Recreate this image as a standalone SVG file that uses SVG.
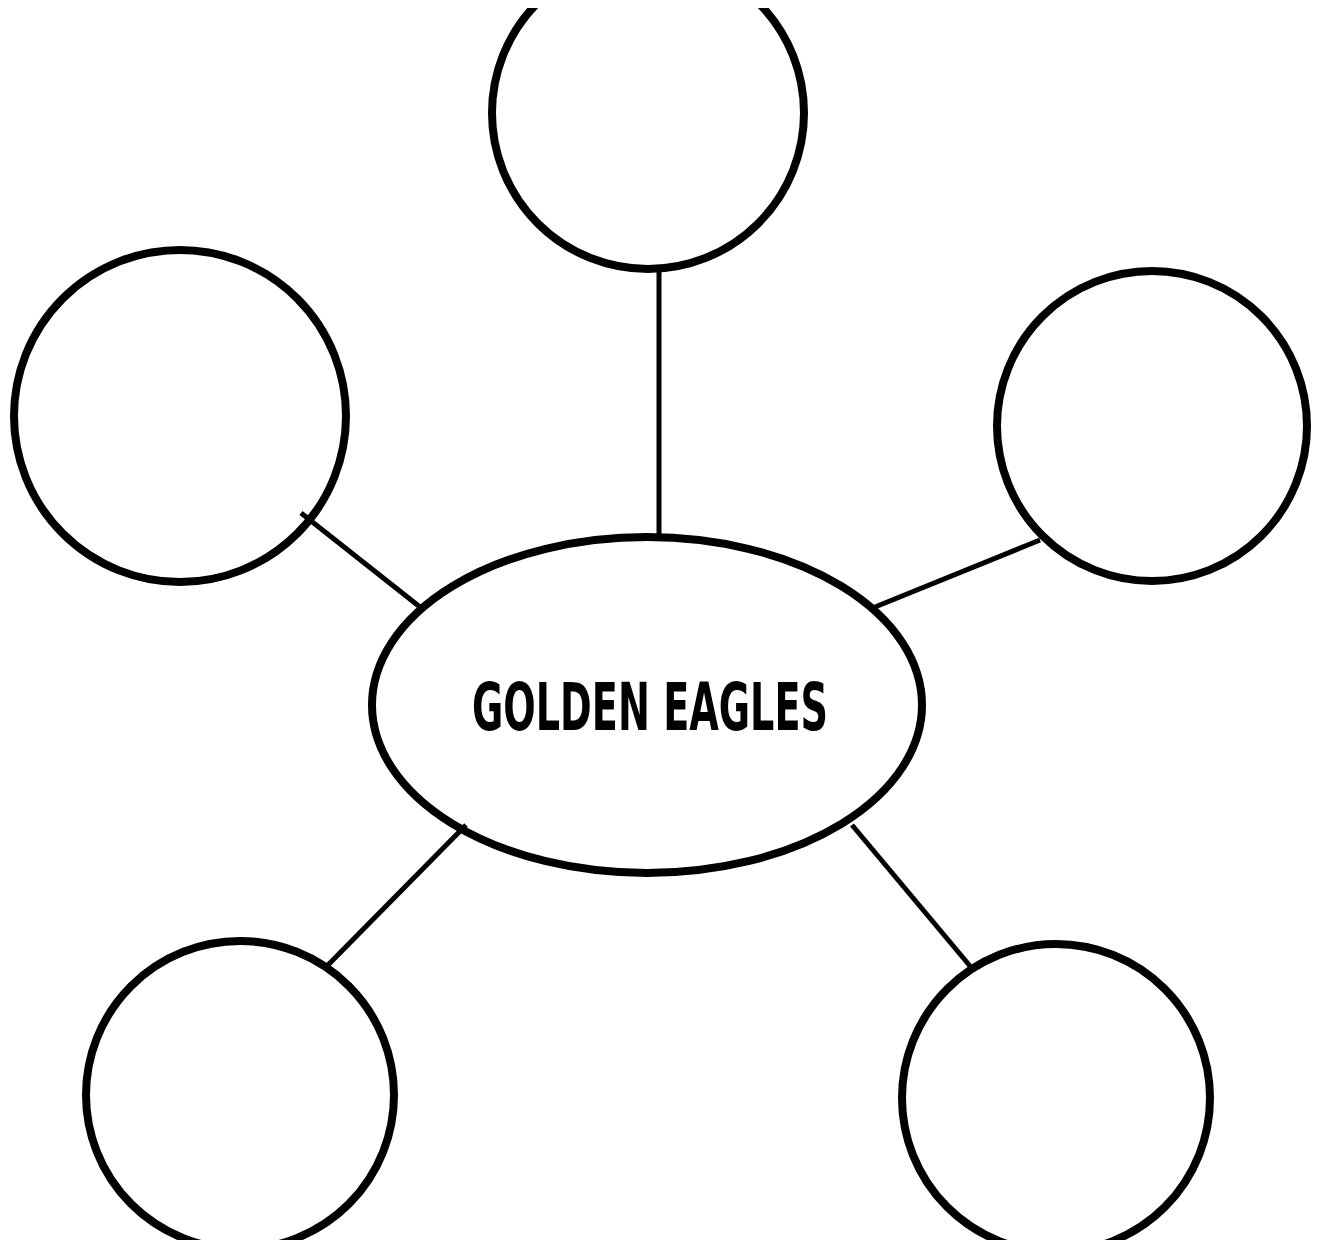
<svg xmlns="http://www.w3.org/2000/svg" width="1320" height="1245" viewBox="0 0 1320 1245">
  <defs>
    <clipPath id="page">
      <rect x="0" y="8" width="1320" height="1232"/>
    </clipPath>
  </defs>
  <style>
    .bubble { fill: none; stroke: #000; stroke-width: 8; }
    .link { stroke: #000; stroke-width: 5; fill: none; }
    .title { font-family: "DejaVu Sans Condensed", "DejaVu Sans", sans-serif; font-weight: bold; font-size: 66px; fill: #000; }
  </style>
  <rect width="1320" height="1245" fill="#fff"/>
  <g clip-path="url(#page)">
    <g id="connectors">
      <line class="link" x1="659" y1="271" x2="659" y2="537"/>
      <line class="link" x1="301" y1="513" x2="420" y2="607"/>
      <line class="link" x1="875" y1="607" x2="1040" y2="540"/>
      <line class="link" x1="466" y1="825" x2="328" y2="965"/>
      <line class="link" x1="852" y1="825" x2="970" y2="966"/>
    </g>
    <g id="node-top">
      <circle class="bubble" cx="648" cy="113" r="156"/>
    </g>
    <g id="node-left">
      <circle class="bubble" cx="180" cy="416" r="166"/>
    </g>
    <g id="node-right">
      <circle class="bubble" cx="1152" cy="426" r="155"/>
    </g>
    <g id="node-bottom-left">
      <circle class="bubble" cx="240" cy="1095" r="154"/>
    </g>
    <g id="node-bottom-right">
      <circle class="bubble" cx="1056" cy="1098" r="154"/>
    </g>
    <g id="node-center">
      <ellipse class="bubble" cx="647" cy="705" rx="275" ry="168" fill="#fff"/>
      <text class="title" x="650" y="730" text-anchor="middle" textLength="356" lengthAdjust="spacingAndGlyphs">GOLDEN EAGLES</text>
    </g>
  </g>
</svg>
